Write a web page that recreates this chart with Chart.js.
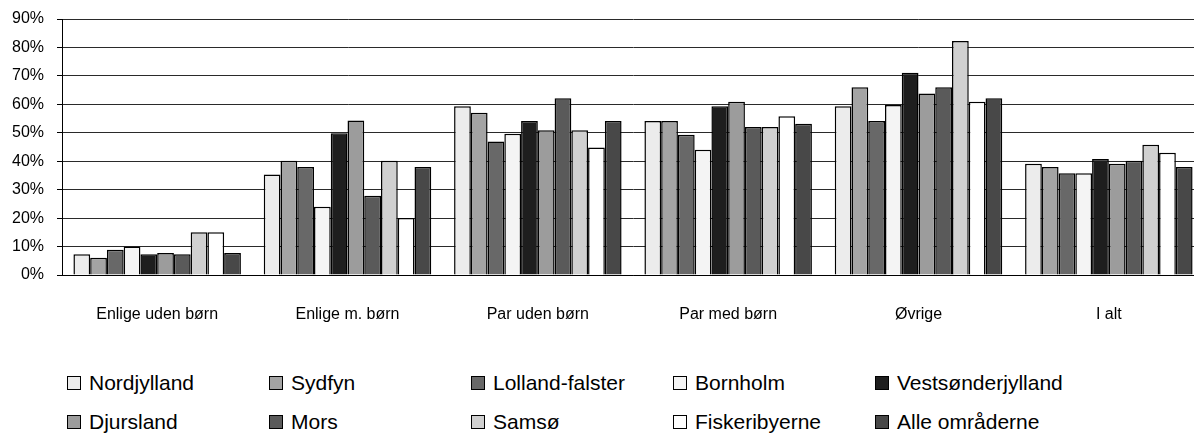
<!DOCTYPE html>
<html>
<head>
<meta charset="utf-8">
<script src="https://cdn.jsdelivr.net/npm/chart.js@4.4.1/dist/chart.umd.min.js"></script>
<style>
  body { margin: 0; background: #fff; width: 1194px; height: 434px; overflow: hidden;
         font-family: "Liberation Sans", Arial, sans-serif; }
  #wrap { position: relative; width: 1194px; height: 434px; overflow: hidden; }
  #chart { position: absolute; left: 0; top: 0; }
  #legend { position: absolute; left: 67px; top: 372px; width: 1110px;
            display: grid; grid-template-columns: repeat(5, 202px); row-gap: 17px; }
  .item { display: flex; align-items: center; height: 22px; font-size: 21px; color: #000; white-space: nowrap; }
  .box { width: 12px; height: 12px; border: 1px solid #000; margin-right: 8px; flex: none; }
</style>
</head>
<body>
<div id="wrap">
  <!-- plot runs a little past the right edge, as in the original -->
  <canvas id="chart" width="1204" height="345"></canvas>
  <div id="legend"></div>
</div>
<script>
// ==========================
// Data
// ==========================
const categories = ["Enlige uden børn", "Enlige m. børn", "Par uden børn", "Par med børn", "Øvrige", "I alt"];

const nordjylland  = [7.3, 35.3, 59.3, 54.1, 59.3, 39.1];
const sydfyn       = [6.1, 40.2, 57.0, 54.1, 66.0, 38.0];
const lollandFalster = [8.9, 38.0, 46.9, 49.3, 54.1, 35.8];
const bornholm     = [10.0, 24.0, 49.7, 44.0, 59.8, 35.8];
const vestsonderjylland = [7.3, 49.8, 54.1, 59.3, 71.1, 40.8];
const djursland    = [7.7, 54.3, 50.9, 60.9, 63.8, 39.1];
const mors         = [7.3, 27.9, 62.1, 52.0, 66.0, 40.2];
const samso        = [15.0, 40.2, 50.9, 52.0, 82.3, 45.8];
const fiskeribyerne = [15.0, 20.0, 44.8, 55.8, 60.9, 43.0];
const alleOmraader = [7.7, 38.0, 54.1, 53.2, 62.1, 38.0];

const seriesNames = ["Nordjylland", "Sydfyn", "Lolland-falster", "Bornholm", "Vestsønderjylland",
                     "Djursland", "Mors", "Samsø", "Fiskeribyerne", "Alle områderne"];
const seriesValues = [nordjylland, sydfyn, lollandFalster, bornholm, vestsonderjylland,
                      djursland, mors, samso, fiskeribyerne, alleOmraader];
const seriesColors = ["#ececec", "#a4a4a4", "#686868", "#f4f4f4", "#1e1e1e",
                      "#9c9c9c", "#5a5a5a", "#d0d0d0", "#ffffff", "#484848"];

const yTicks = [0, 10, 20, 30, 40, 50, 60, 70, 80, 90];

// ==========================
// Chart
// ==========================
Chart.defaults.font.family = "'Liberation Sans', Arial, sans-serif";
Chart.defaults.color = "#000";

const datasets = seriesNames.map((name, i) => ({
  label: name,
  data: seriesValues[i],
  backgroundColor: seriesColors[i],
  borderColor: "#000",
  borderWidth: 1.5,
  categoryPercentage: 0.88,
  barPercentage: 1.0
}));

const ctx = document.getElementById("chart").getContext("2d");
new Chart(ctx, {
  type: "bar",
  data: { labels: categories, datasets: datasets },
  options: {
    responsive: false,
    animation: false,
    layout: { padding: 0 },
    plugins: { legend: { display: false }, tooltip: { enabled: false } },
    scales: {
      x: {
        grid: { display: false, drawTicks: false },
        border: { display: true, color: "#000", width: 1 },
        // empty first line pushes the label down, like the original's gap under the axis
        ticks: { font: { size: 16 }, padding: 11, maxRotation: 0,
                 callback: function (v, i) { return ["", categories[i]]; } },
        afterFit: (scale) => { scale.height = 70; }
      },
      y: {
        min: yTicks[0],
        max: yTicks[yTicks.length - 1],
        afterBuildTicks: (scale) => { scale.ticks = yTicks.map(v => ({ value: v })); },
        // small lineHeight keeps the top overflow at 19px so 90% sits near the top
        ticks: { font: { size: 16, lineHeight: 0.75 }, padding: 13, callback: (v) => v + "%" },
        grid: { color: "#2a2a2a", tickLength: 5, tickColor: "#000" },
        border: { display: true, color: "#000", width: 1 },
        afterFit: (scale) => { scale.width = 62; }
      }
    }
  }
});

// ==========================
// Legend (fixed columns, like the original)
// ==========================
const legendEl = document.getElementById("legend");
seriesNames.forEach((name, i) => {
  const item = document.createElement("div");
  item.className = "item";
  const box = document.createElement("span");
  box.className = "box";
  box.style.background = seriesColors[i];
  item.appendChild(box);
  item.appendChild(document.createTextNode(name));
  legendEl.appendChild(item);
});
</script>
</body>
</html>
